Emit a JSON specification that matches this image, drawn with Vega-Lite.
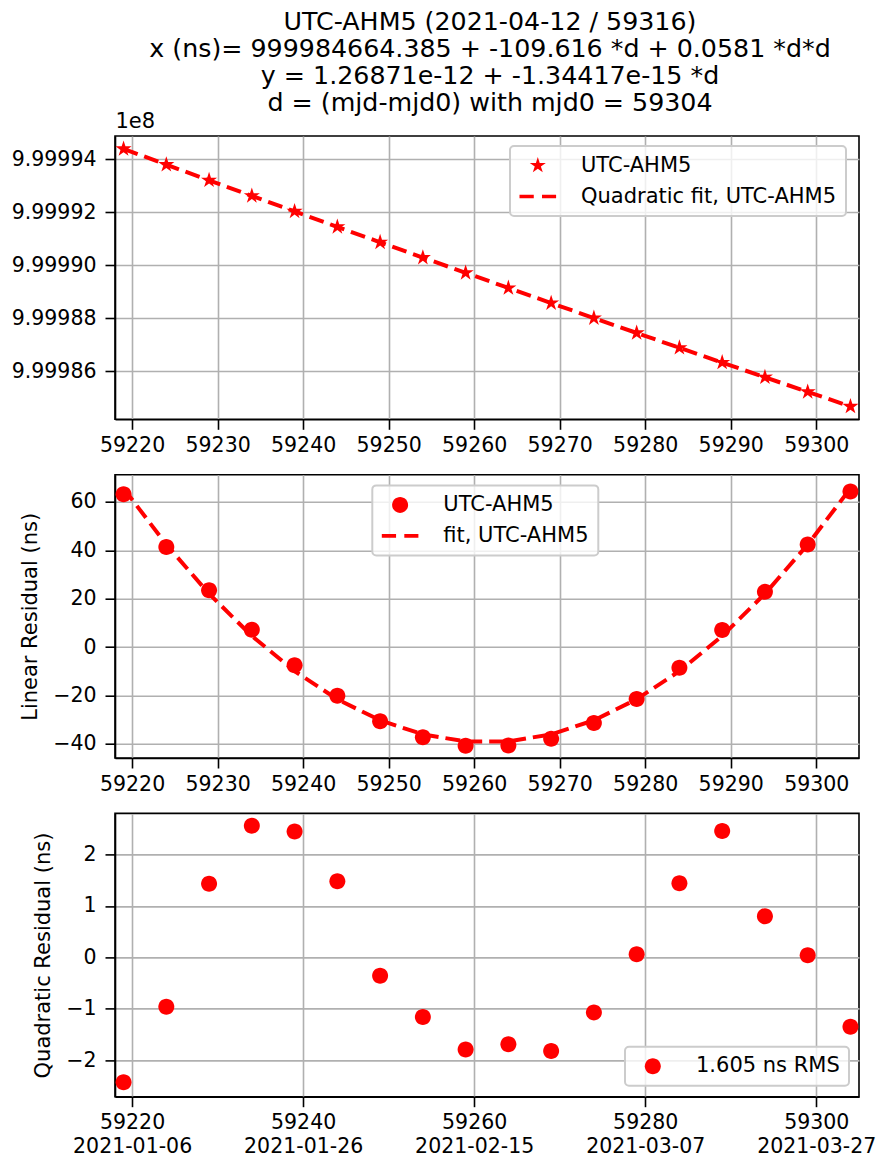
{
  "$schema": "https://vega.github.io/schema/vega-lite/v6.json",
  "background": "white",
  "padding": {"left": 10, "top": 10, "right": 20, "bottom": 5},
  "bounds": "flush",
  "spacing": 54.7,
  "resolve": {"scale": {"shape": "independent"}, "legend": {"shape": "independent"}},
  "title": {
    "text": ["UTC-AHM5 (2021-04-12 / 59316)", "x (ns)= 999984664.385 + -109.616 *d + 0.0581 *d*d", "y = 1.26871e-12 + -1.34417e-15 *d", "d = (mjd-mjd0) with mjd0 = 59304"],
    "fontSize": 25.3,
    "lineHeight": 27,
    "font": "DejaVu Sans",
    "fontWeight": "normal",
    "color": "black",
    "anchor": "middle",
    "frame": "group",
    "offset": -7.5,
    "dx": 3
  },
  "data": {
    "values": [
      {"mjd": 59219, "xv": 999994399.1, "xfit": 999994401.5, "lin": 63.19, "linfit": 65.64, "quad": -2.43},
      {"mjd": 59224, "xv": 999993804.5, "xfit": 999993805.5, "lin": 41.43, "linfit": 42.40, "quad": -0.96},
      {"mjd": 59229, "xv": 999993213.8, "xfit": 999993212.4, "lin": 23.49, "linfit": 22.07, "quad": 1.43},
      {"mjd": 59234, "xv": 999992624.8, "xfit": 999992622.2, "lin": 7.19, "linfit": 4.64, "quad": 2.56},
      {"mjd": 59239, "xv": 999992037.4, "xfit": 999992034.9, "lin": -7.44, "linfit": -9.89, "quad": 2.45},
      {"mjd": 59244, "xv": 999991452.0, "xfit": 999991450.5, "lin": -20.04, "linfit": -21.51, "quad": 1.48},
      {"mjd": 59249, "xv": 999990868.6, "xfit": 999990869.0, "lin": -30.58, "linfit": -30.22, "quad": -0.36},
      {"mjd": 59254, "xv": 999990289.2, "xfit": 999990290.4, "lin": -37.19, "linfit": -36.03, "quad": -1.16},
      {"mjd": 59259, "xv": 999989713.0, "xfit": 999989714.8, "lin": -40.73, "linfit": -38.94, "quad": -1.79},
      {"mjd": 59264, "xv": 999989140.3, "xfit": 999989142.0, "lin": -40.63, "linfit": -38.94, "quad": -1.69},
      {"mjd": 59269, "xv": 999988570.3, "xfit": 999988572.1, "lin": -37.85, "linfit": -36.03, "quad": -1.82},
      {"mjd": 59274, "xv": 999988004.1, "xfit": 999988005.2, "lin": -31.29, "linfit": -30.22, "quad": -1.07},
      {"mjd": 59279, "xv": 999987441.2, "xfit": 999987441.1, "lin": -21.45, "linfit": -21.51, "quad": 0.06},
      {"mjd": 59284, "xv": 999986881.4, "xfit": 999986880.0, "lin": -8.45, "linfit": -9.89, "quad": 1.44},
      {"mjd": 59289, "xv": 999986324.2, "xfit": 999986321.7, "lin": 7.10, "linfit": 4.64, "quad": 2.46},
      {"mjd": 59294, "xv": 999985767.2, "xfit": 999985766.4, "lin": 22.87, "linfit": 22.07, "quad": 0.80},
      {"mjd": 59299, "xv": 999985213.9, "xfit": 999985213.9, "lin": 42.44, "linfit": 42.40, "quad": 0.04},
      {"mjd": 59304, "xv": 999984663.1, "xfit": 999984664.4, "lin": 64.29, "linfit": 65.64, "quad": -1.35}
    ]
  },
  "vconcat": [
    {
      "width": 744,
      "height": 283.3,
      "layer": [
        {
          "mark": {"type": "point", "filled": true, "color": "red", "size": 400, "opacity": 1, "strokeWidth": 0},
          "encoding": {
            "x": {"field": "mjd", "type": "quantitative", "scale": {"domain": [59218, 59305], "nice": false, "zero": false},
                  "axis": {"values": [59220, 59230, 59240, 59250, 59260, 59270, 59280, 59290, 59300], "format": "d", "title": null}},
            "y": {"field": "xv", "type": "quantitative", "scale": {"domain": [999984177, 999994888], "nice": false, "zero": false},
                  "axis": {"values": [999986000, 999988000, 999990000, 999992000, 999994000], "labelExpr": "format(datum.value/1e8, '.5f')",
                           "title": "1e8", "titleAngle": 0, "titleX": 0, "titleY": -9, "titleAlign": "left", "titleBaseline": "alphabetic"}},
            "shape": {"datum": "UTC-AHM5", "type": "nominal",
                      "scale": {"domain": ["UTC-AHM5", "Quadratic fit, UTC-AHM5"],
                                "range": ["M0,-0.846L0.189,-0.26L0.803,-0.262L0.306,0.099L0.497,0.684L0,0.322L-0.497,0.684L-0.306,0.099L-0.803,-0.262L-0.189,-0.26Z",
                                          "M-1.83,-0.183H-0.403V0.183H-1.83Z M0.421,-0.183H1.83V0.183H0.421Z"]},
                      "legend": {"orient": "none", "legendX": 395, "legendY": 10, "title": null}}
          }
        },
        {
          "mark": {"type": "line", "color": "red", "strokeWidth": 4, "strokeDash": [15, 7]},
          "encoding": {
            "x": {"field": "mjd", "type": "quantitative"},
            "y": {"field": "xfit", "type": "quantitative"}
          }
        }
      ]
    },
    {
      "width": 744,
      "height": 283.3,
      "layer": [
        {
          "mark": {"type": "point", "filled": true, "color": "red", "size": 400, "opacity": 1, "strokeWidth": 0},
          "encoding": {
            "x": {"field": "mjd", "type": "quantitative", "scale": {"domain": [59218, 59305], "nice": false, "zero": false},
                  "axis": {"values": [59220, 59230, 59240, 59250, 59260, 59270, 59280, 59290, 59300], "format": "d", "title": null}},
            "y": {"field": "lin", "type": "quantitative", "scale": {"domain": [-45.79, 71.28], "nice": false, "zero": false},
                  "axis": {"values": [-40, -20, 0, 20, 40, 60], "title": "Linear Residual (ns)", "titlePadding": 12}},
            "shape": {"datum": "UTC-AHM5", "type": "nominal",
                      "scale": {"domain": ["UTC-AHM5", "fit, UTC-AHM5"],
                                "range": ["M0.8,0A0.8,0.8 0 1,1 -0.8,0A0.8,0.8 0 1,1 0.8,0Z",
                                          "M-1.83,-0.183H-0.403V0.183H-1.83Z M0.421,-0.183H1.83V0.183H0.421Z"]},
                      "legend": {"orient": "none", "legendX": 257.3, "legendY": 10.7, "title": null}}
          }
        },
        {
          "mark": {"type": "line", "color": "red", "strokeWidth": 4, "strokeDash": [15, 7]},
          "encoding": {
            "x": {"field": "mjd", "type": "quantitative"},
            "y": {"field": "linfit", "type": "quantitative"}
          }
        }
      ]
    },
    {
      "width": 744,
      "height": 283.3,
      "mark": {"type": "point", "filled": true, "color": "red", "size": 400, "opacity": 1, "strokeWidth": 0},
      "encoding": {
        "x": {"field": "mjd", "type": "quantitative", "scale": {"domain": [59218, 59305], "nice": false, "zero": false},
              "axis": {"values": [59220, 59240, 59260, 59280, 59300], "title": null, "labelLineHeight": 24,
                       "labelExpr": "[format(datum.value, 'd'), utcFormat((datum.value - 40587) * 86400000, '%Y-%m-%d')]"}},
        "y": {"field": "quad", "type": "quantitative", "scale": {"domain": [-2.71, 2.8], "nice": false, "zero": false},
              "axis": {"values": [-2, -1, 0, 1, 2], "title": "Quadratic Residual (ns)", "titlePadding": 12}},
        "shape": {"datum": "1.605 ns RMS", "type": "nominal",
                  "scale": {"domain": ["1.605 ns RMS"],
                            "range": ["M0.8,0A0.8,0.8 0 1,1 -0.8,0A0.8,0.8 0 1,1 0.8,0Z"]},
                  "legend": {"orient": "none", "legendX": 510, "legendY": 233.3, "title": null}}
      }
    }
  ],
  "config": {
    "font": "DejaVu Sans",
    "view": {"stroke": "black", "strokeWidth": 1.6},
    "axis": {
      "labelFont": "DejaVu Sans", "labelFontSize": 20.5, "labelColor": "black",
      "titleFont": "DejaVu Sans", "titleFontSize": 21, "titleFontWeight": "normal", "titleColor": "black",
      "tickColor": "black", "tickSize": 10, "tickWidth": 1.6,
      "domainColor": "black", "domainWidth": 1.6,
      "grid": true, "gridColor": "#b0b0b0", "gridWidth": 1.6, "gridOpacity": 1
    },
    "axisX": {"labelPadding": 6},
    "axisY": {"labelPadding": 9},
    "legend": {
      "labelFont": "DejaVu Sans", "labelFontSize": 21, "labelColor": "black", "labelLimit": 500,
      "fillColor": "rgba(255,255,255,0.8)", "strokeColor": "#cccccc", "strokeWidth": 2, "cornerRadius": 4,
      "padding": 9, "symbolSize": 400, "symbolOffset": 8.3, "symbolStrokeWidth": 0, "symbolFillColor": "red", "symbolOpacity": 1,
      "labelOffset": 32.7, "rowPadding": 9
    }
  }
}
